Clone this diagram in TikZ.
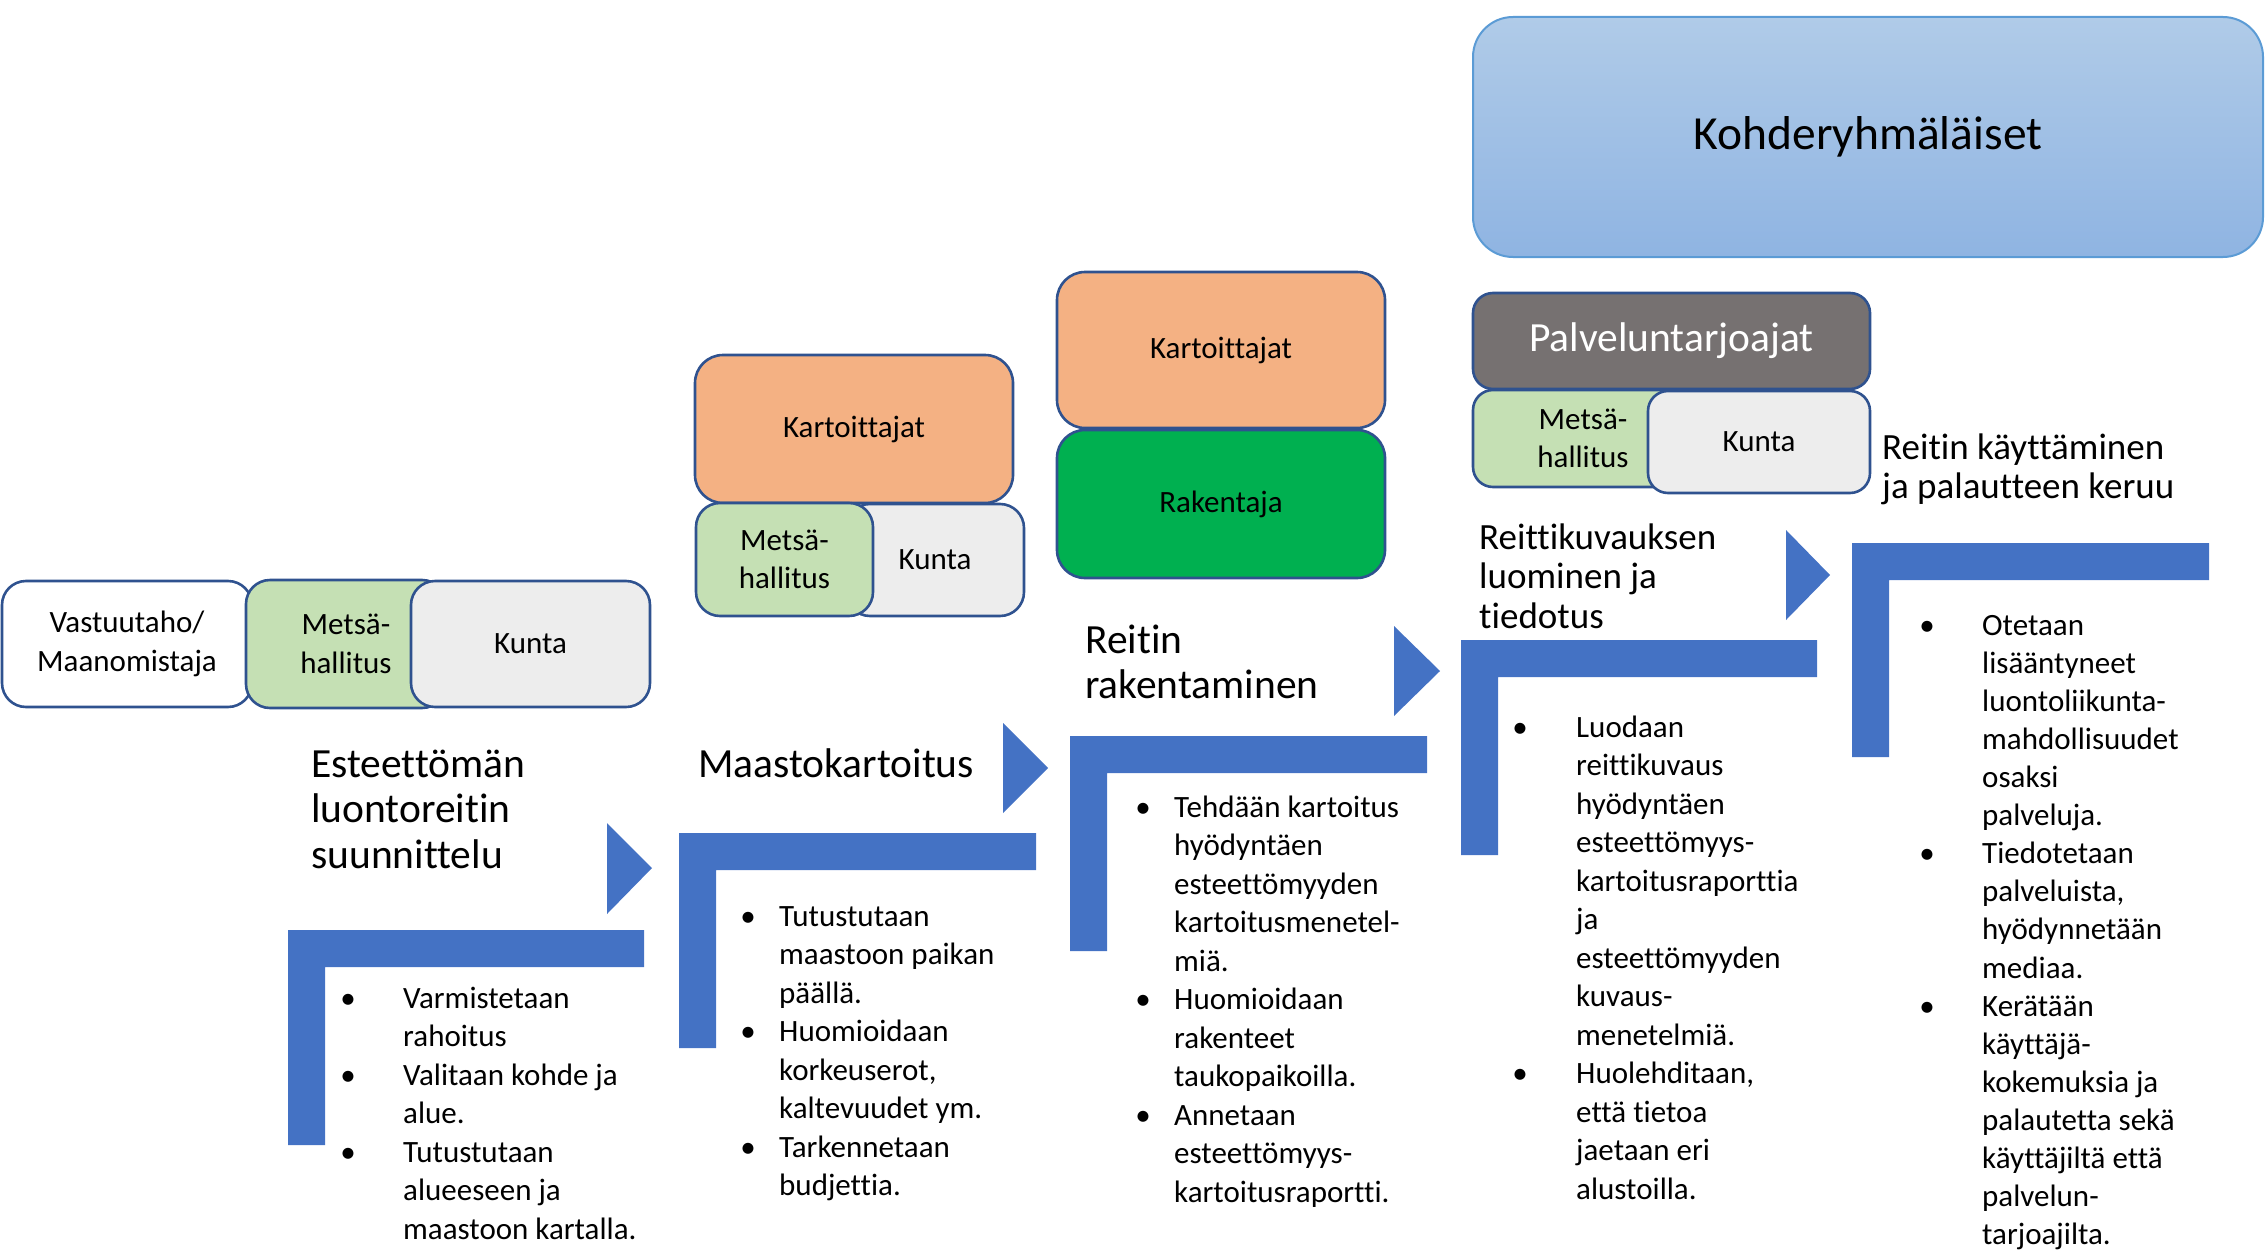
\documentclass[tikz,border=0pt]{standalone}
\usepackage{fontspec}
\setmainfont{Carlito}[Ligatures=NoCommon]
\definecolor{chevblue}{HTML}{4472C4}
\definecolor{bord}{HTML}{2F528F}
\definecolor{orng}{HTML}{F4B183}
\definecolor{lgrn}{HTML}{C5E0B4}
\definecolor{lgry}{HTML}{EDEDED}
\definecolor{dgrn}{HTML}{00B050}
\definecolor{dgry}{HTML}{767171}
\definecolor{ktop}{HTML}{B0CBE8}
\definecolor{kbot}{HTML}{8FB4E2}
\definecolor{kbrd}{HTML}{5B9BD5}
\newcommand\bodyfont{\fontsize{31}{38.5}\selectfont}
\newcommand\tightfont{\fontsize{31}{38.1}\selectfont}
\newcommand\hdfont{\fontsize{41.5}{45.5}\selectfont}
\newcommand\hdsfont{\fontsize{37}{39.7}\selectfont}
\newcommand\bitem[5]{%
  \node[bdot] (#1d) at (#2,#4) {•};
  \node[btxt] (#1) at (#3,#4) {\parbox[t]{330pt}{\raggedright #5}};}
\begin{document}
\begin{tikzpicture}[x=1pt,y=-1pt,
  box/.style={draw=bord, line width=2.6pt, rounded corners=24pt, inner sep=0pt,
    align=center, font=\bodyfont},
  bar/.style={fill=chevblue},
  bdot/.style={anchor=base, inner sep=0pt, font=\bodyfont},
  btxt/.style={anchor=base west, inner sep=0pt, font=\bodyfont},
  hd/.style={anchor=base west, inner sep=0pt, font=\hdfont},
  hds/.style={anchor=base west, inner sep=0pt, font=\hdsfont}]
\useasboundingbox (0,0) rectangle (2265,1255);

% ---- top target group box
\node[draw=kbrd, line width=2pt, rounded corners=40pt, top color=ktop, bottom color=kbot,
  minimum width=790pt, minimum height=240pt, inner sep=0pt,
  font=\fontsize{47.5}{57}\selectfont] (kohde) at (1868,137) {Kohderyhmäläiset};

% ---- step 1 boxes
\node[box, fill=white, minimum width=250pt, minimum height=126pt] (v1) at (127,644) {Vastuutaho/\\Maanomistaja};
\node[box, fill=lgrn, minimum width=200pt, minimum height=128pt] (m1) at (346,644) {Metsä-\\hallitus};
\node[box, fill=lgry, minimum width=239pt, minimum height=126pt] (k1) at (530.5,644) {Kunta};

% ---- step 2 boxes
\node[box, fill=orng, rounded corners=28pt, minimum width=318pt, minimum height=148pt] (c2) at (854,429) {Kartoittajat};
\node[box, fill=lgry, minimum width=178pt, minimum height=112pt] (k2) at (935,560) {Kunta};
\node[box, fill=lgrn, minimum width=177pt, minimum height=113pt] (m2) at (784.5,559.5) {Metsä-\\hallitus};

% ---- step 3 boxes
\node[box, fill=orng, rounded corners=28pt, minimum width=328pt, minimum height=156pt] (c3) at (1221,350) {Kartoittajat};
\node[box, fill=dgrn, rounded corners=28pt, minimum width=328pt, minimum height=148pt] (r3) at (1221,504) {Rakentaja};

% ---- step 4 boxes
\node[box, fill=dgry, rounded corners=20pt, minimum width=397pt, minimum height=96pt,
  text=white, font=\hdfont] (p4) at (1671.5,341) {Palveluntarjoajat};
\node[box, fill=lgrn, rounded corners=20pt, minimum width=220pt, minimum height=97pt] (m4) at (1583,438.5) {Metsä-\\hallitus};
\node[box, fill=lgry, rounded corners=20pt, minimum width=222pt, minimum height=102pt] (k4) at (1759,442) {Kunta};

% ---- L-shaped bars
\fill[bar] (288,930) -- (644,930) -- (644,967) -- (325,967) -- (325,1145) -- (288,1145) -- cycle;
\fill[bar] (679,833) -- (1036,833) -- (1036,870) -- (716,870) -- (716,1048) -- (679,1048) -- cycle;
\fill[bar] (1070,736) -- (1427,736) -- (1427,773) -- (1107,773) -- (1107,951) -- (1070,951) -- cycle;
\fill[bar] (1461,640) -- (1817,640) -- (1817,677) -- (1498,677) -- (1498,855) -- (1461,855) -- cycle;
\fill[bar] (1852,543) -- (2209,543) -- (2209,580) -- (1889,580) -- (1889,757) -- (1852,757) -- cycle;

% ---- triangles
\fill[bar] (607,823) -- (652,868) -- (607,914) -- cycle;
\fill[bar] (1003,723) -- (1048,768) -- (1003,813) -- cycle;
\fill[bar] (1394,626) -- (1440,671) -- (1394,716) -- cycle;
\fill[bar] (1786,530) -- (1830,575) -- (1786,620) -- cycle;

% ---- headings
\node[hd] (h1) at (311,777) {\parbox[t]{300pt}{\raggedright Esteettömän\\luontoreitin\\suunnittelu}};
\node[hd] (h2) at (698,777) {\parbox[t]{300pt}{\raggedright Maastokartoitus}};
\node[hd] (h3) at (1085,653) {\parbox[t]{300pt}{\raggedright Reitin\\rakentaminen}};
\node[hds] (h4) at (1479,549) {\parbox[t]{300pt}{\raggedright Reittikuvauksen\\luominen ja\\tiedotus}};
\node[hds] (h5) at (1882,459) {\parbox[t]{330pt}{\raggedright Reitin käyttäminen\\ja palautteen keruu}};

% ---- bullet lists
\bitem{a1}{348}{403}{1008}{Varmistetaan\\rahoitus}
\bitem{a2}{348}{403}{1085}{Valitaan kohde ja\\alue.}
\bitem{a3}{348}{403}{1162}{Tutustutaan\\alueeseen ja\\maastoon kartalla.}

\bitem{b1}{748}{779}{926}{Tutustutaan\\maastoon paikan\\päällä.}
\bitem{b2}{748}{779}{1041.5}{Huomioidaan\\korkeuserot,\\kaltevuudet ym.}
\bitem{b3}{748}{779}{1157}{Tarkennetaan\\budjettia.}

\bitem{c1}{1143}{1174}{817}{Tehdään kartoitus\\hyödyntäen\\esteettömyyden\\kartoitusmenetel-\\miä.}
\bitem{c2b}{1143}{1174}{1009.5}{Huomioidaan\\rakenteet\\taukopaikoilla.}
\bitem{c3b}{1143}{1174}{1125}{Annetaan\\esteettömyys-\\kartoitusraportti.}

\bitem{d1}{1520}{1576}{737}{Luodaan\\reittikuvaus\\hyödyntäen\\esteettömyys-\\kartoitusraporttia\\ja\\esteettömyyden\\kuvaus-\\menetelmiä.}
\bitem{d2}{1520}{1576}{1083.5}{Huolehditaan,\\että tietoa\\jaetaan eri\\alustoilla.}

\bitem{e1}{1927}{1982}{635}{{\tightfont Otetaan\\lisääntyneet\\luontoliikunta-\\mahdollisuudet\\osaksi\\palveluja.}}
\bitem{e2}{1927}{1982}{863.6}{{\tightfont Tiedotetaan\\palveluista,\\hyödynnetään\\mediaa.}}
\bitem{e3}{1927}{1982}{1016}{{\tightfont Kerätään\\käyttäjä-\\kokemuksia ja\\palautetta sekä\\käyttäjiltä että\\palvelun-\\tarjoajilta.\par}}
\end{tikzpicture}
\end{document}
